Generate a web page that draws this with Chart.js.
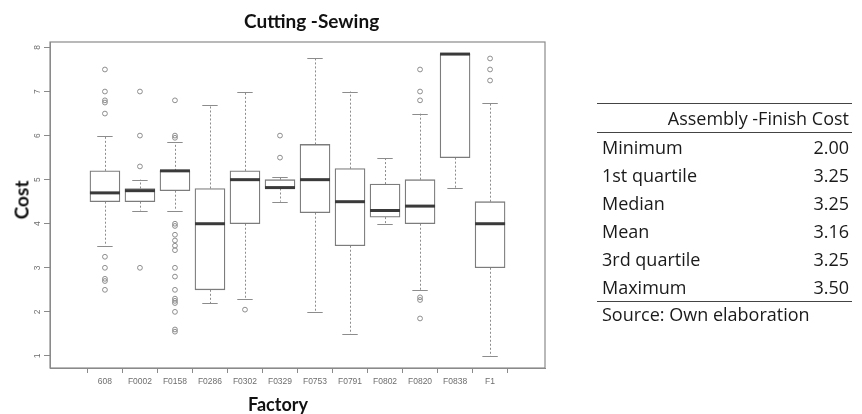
<!DOCTYPE html>
<html>
<head>
<meta charset="utf-8">
<title>Cutting -Sewing</title>
<script src="https://cdn.jsdelivr.net/npm/chart.js@4.4.1/dist/chart.umd.min.js"></script>
<style>
  html, body { margin: 0; padding: 0; background: #fff; }
  #wrap { position: relative; width: 862px; height: 414px; overflow: hidden; }
  #chart { position: absolute; left: 0; top: 0; }
  .lbl { position: absolute; font-family: Lato, 'Open Sans', sans-serif; font-weight: bold; color: #111; white-space: nowrap; }
  #title { left: 244px; top: 9px; font-size: 19px; }
  #xlab { left: 248px; top: 393px; font-size: 18px; }
  #ylab { left: 21px; top: 200px; font-size: 19px; transform: translate(-50%, -50%) rotate(-90deg); }
  #stats { position: absolute; left: 597px; top: 103px; width: 255px; border-collapse: collapse;
           font-family: 'Open Sans', sans-serif; font-size: 18px; color: #1a1a1a; }
  #stats td, #stats th { padding: 0 3px 0 5px; height: 28px; line-height: 28px; font-weight: normal; }
  #stats th { text-align: right; border-top: 1.5px solid #444; border-bottom: 1.5px solid #444; height: 28px; }
  #stats td.v { text-align: right; }
  #stats tr.last td { border-bottom: 1.5px solid #444; }
  #source { position: absolute; left: 602px; top: 302px; font-family: 'Open Sans', sans-serif; font-size: 18px; color: #1a1a1a; }
</style>
</head>
<body>
<div id="wrap">
  <canvas id="chart" width="862" height="414"></canvas>
  <div class="lbl" id="title">Cutting -Sewing</div>
  <div class="lbl" id="xlab">Factory</div>
  <div class="lbl" id="ylab">Cost</div>
  <table id="stats"></table>
  <div id="source">Source: Own elaboration</div>
</div>
<script>
// box plot summary per factory
const factories = ['608', 'F0002', 'F0158', 'F0286', 'F0302', 'F0329', 'F0753', 'F0791', 'F0802', 'F0820', 'F0838', 'F1'];
const whiskerLow  = [3.5, 4.3, 4.3, 2.2, 2.3, 4.5, 2.0, 1.5, 4.0, 2.5, 4.8, 1.0];
const q1          = [4.5, 4.5, 4.75, 2.5, 4.0, 4.8, 4.25, 3.5, 4.15, 4.0, 5.5, 3.0];
const median      = [4.7, 4.75, 5.2, 4.0, 5.0, 4.82, 5.0, 4.5, 4.3, 4.4, 7.85, 4.0];
const q3          = [5.2, 4.8, 5.2, 4.8, 5.2, 5.0, 5.8, 5.25, 4.9, 5.0, 7.85, 4.5];
const whiskerHigh = [6.0, 5.0, 5.85, 6.7, 7.0, 5.05, 7.75, 7.0, 5.5, 6.5, 7.85, 6.75];
const outliers = [
  [7.5, 7.0, 6.8, 6.75, 6.5, 3.25, 3.0, 2.75, 2.7, 2.5],
  [7.0, 6.0, 5.3, 3.0],
  [6.8, 6.0, 5.95, 4.0, 3.95, 3.75, 3.62, 3.5, 3.4, 3.0, 2.8, 2.5, 2.3, 2.25, 2.2, 2.0, 1.6, 1.55],
  [],
  [2.05],
  [6.0, 5.5],
  [],
  [],
  [],
  [7.5, 7.0, 6.8, 2.33, 2.27, 1.85],
  [],
  [7.75, 7.5, 7.25]
];
const yTicks = [1, 2, 3, 4, 5, 6, 7, 8];

// summary table for the other stage
const statNames  = ['Minimum', '1st quartile', 'Median', 'Mean', '3rd quartile', 'Maximum'];
const statValues = [2.00, 3.25, 3.25, 3.16, 3.25, 3.50];

const table = document.getElementById('stats');
table.innerHTML = '<tr><th colspan="2">Assembly -Finish Cost</th></tr>' +
  statNames.map((n, i) => `
    <tr class="${i === statNames.length - 1 ? 'last' : ''}">
      <td>${n}</td><td class="v">${statValues[i].toFixed(2)}</td>
    </tr>`).join('');

const axisGrey = '#8a8a8a';

const boxPlugin = {
  id: 'boxParts',
  beforeDatasetsDraw(chart) {
    const { ctx, scales: { x, y } } = chart;
    ctx.save();
    ctx.strokeStyle = '#8c8c8c';
    ctx.lineWidth = 1;
    factories.forEach((f, i) => {
      const cx = Math.round(x.getPixelForValue(i + 1)) + 0.5;
      // dashed whiskers
      ctx.setLineDash([2, 2]);
      ctx.beginPath();
      ctx.moveTo(cx, y.getPixelForValue(q3[i]));
      ctx.lineTo(cx, y.getPixelForValue(whiskerHigh[i]));
      ctx.moveTo(cx, y.getPixelForValue(q1[i]));
      ctx.lineTo(cx, y.getPixelForValue(whiskerLow[i]));
      ctx.stroke();
      // staples
      ctx.setLineDash([]);
      const l = x.getPixelForValue(i + 1 - 0.22);
      const r = x.getPixelForValue(i + 1 + 0.22);
      [whiskerHigh[i], whiskerLow[i]].forEach(v => {
        const py = Math.round(y.getPixelForValue(v)) + 0.5;
        ctx.beginPath();
        ctx.moveTo(l, py);
        ctx.lineTo(r, py);
        ctx.stroke();
      });
    });
    ctx.restore();
  },
  afterDatasetsDraw(chart) {
    const { ctx, chartArea, scales: { y } } = chart;
    const bars = chart.getDatasetMeta(0).data;
    ctx.save();
    ctx.strokeStyle = '#3a3a3a';
    ctx.lineWidth = 3;
    bars.forEach((bar, i) => {
      const py = y.getPixelForValue(median[i]);
      ctx.beginPath();
      ctx.moveTo(bar.x - bar.width / 2, py);
      ctx.lineTo(bar.x + bar.width / 2, py);
      ctx.stroke();
    });
    // frame around the plot region
    ctx.strokeStyle = axisGrey;
    ctx.lineWidth = 1.2;
    ctx.strokeRect(chartArea.left, chartArea.top, chartArea.right - chartArea.left, chartArea.bottom - chartArea.top);
    ctx.restore();
  }
};

new Chart(document.getElementById('chart'), {
  type: 'bar',
  data: {
    datasets: [
      {
        label: 'Box',
        data: factories.map((f, i) => ({ x: i + 1, y: [q1[i], q3[i]] })),
        backgroundColor: '#ffffff',
        borderColor: '#7c7c7c',
        borderWidth: 1.3,
        borderSkipped: false,
        barThickness: 30,
        order: 2
      },
      {
        type: 'scatter',
        label: 'Outliers',
        data: outliers.flatMap((vals, i) => vals.map(v => ({ x: i + 1, y: v }))),
        pointStyle: 'circle',
        pointRadius: 2.4,
        borderColor: '#8c8c8c',
        backgroundColor: 'rgba(0,0,0,0)',
        borderWidth: 1,
        order: 1
      }
    ]
  },
  options: {
    responsive: false,
    animation: false,
    events: [],
    layout: { padding: { top: 42, right: 317, left: 0, bottom: 0 } },
    plugins: { legend: { display: false }, tooltip: { enabled: false }, title: { display: false } },
    scales: {
      x: {
        type: 'linear',
        min: 0.02,
        max: 12.98,
        afterBuildTicks: s => { s.ticks = factories.map((f, i) => ({ value: i + 1 })); },
        afterFit: s => { s.height = 46; },
        ticks: {
          autoSkip: false,
          maxRotation: 0,
          padding: 4,
          color: '#6e6e6e',
          font: { family: 'Liberation Sans', size: 8.5 },
          callback: v => factories[v - 1]
        },
        grid: { drawOnChartArea: false, drawTicks: true, tickLength: 5, color: axisGrey },
        border: { display: true, color: axisGrey }
      },
      y: {
        type: 'linear',
        min: 0.726,
        max: 8.124,
        afterBuildTicks: s => { s.ticks = yTicks.map(v => ({ value: v })); },
        afterFit: s => { s.width = 50; },
        ticks: {
          minRotation: 90,
          maxRotation: 90,
          crossAlign: 'center',
          padding: 4,
          color: '#6e6e6e',
          font: { family: 'Liberation Sans', size: 8.5 },
          callback: v => String(v)
        },
        grid: { drawOnChartArea: false, drawTicks: true, tickLength: 6, color: axisGrey },
        border: { display: true, color: axisGrey }
      }
    }
  },
  plugins: [boxPlugin]
});
</script>
</body>
</html>
